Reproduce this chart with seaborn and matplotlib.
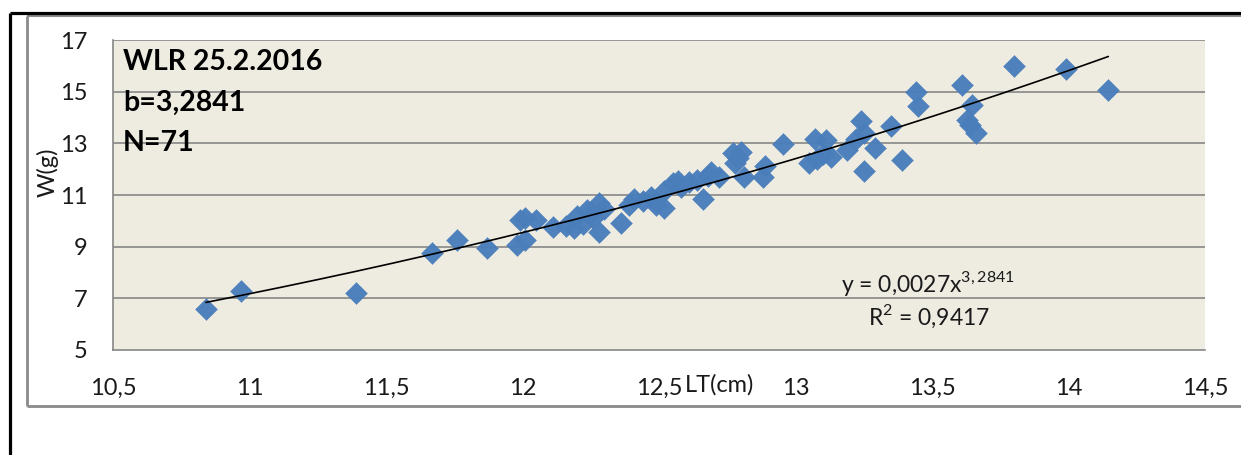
import numpy as np
import pandas as pd
import matplotlib
matplotlib.use("Agg")
import matplotlib.pyplot as plt
from matplotlib.lines import Line2D
import seaborn as sns

# ---- data ----
lt_cm = [10.84, 10.97, 11.39, 11.67, 11.76, 11.87, 11.98, 12.01, 11.99, 12.01,
         12.05, 12.11, 12.19, 12.20, 12.235, 12.22, 12.26, 12.28, 12.28, 12.25,
         12.36, 12.39, 12.41, 12.47, 12.49, 12.52, 12.52, 12.55, 12.57, 12.61,
         12.64, 12.66, 12.69, 12.72, 12.77, 12.80, 12.78, 12.81, 12.88, 12.89,
         12.955, 13.05, 13.07, 13.11, 13.10, 13.13, 13.19, 13.24, 13.25, 13.22,
         13.29, 13.25, 13.35, 13.39, 13.44, 13.45, 13.61, 13.645, 13.63, 13.66,
         13.80, 13.99, 14.146, 12.16, 12.30, 12.44, 12.58, 12.68, 12.79, 13.08,
         13.64]
w_g = [6.60, 7.30, 7.20, 8.75, 9.24, 8.94, 9.07, 9.26, 10.04, 10.12,
       10.04, 9.75, 9.72, 10.20, 10.42, 9.88, 10.10, 10.70, 9.55, 10.30,
       9.93, 10.60, 10.85, 10.94, 10.60, 10.49, 11.15, 11.45, 11.55, 11.52,
       11.58, 10.84, 11.88, 11.71, 12.62, 12.68, 12.23, 11.68, 11.71, 12.13,
       12.97, 12.23, 13.18, 13.13, 12.60, 12.49, 12.74, 13.88, 13.39, 13.15,
       12.81, 11.91, 13.68, 12.36, 14.98, 14.45, 15.24, 14.49, 13.91, 13.39,
       15.98, 15.88, 15.07, 9.80, 10.45, 10.75, 11.30, 11.75, 12.45, 12.40,
       13.70]

x_ticks = [10.5, 11, 11.5, 12, 12.5, 13, 13.5, 14, 14.5]
x_tick_labels = ["10,5", "11", "11,5", "12", "12,5", "13", "13,5", "14", "14,5"]
y_ticks = [5, 7, 9, 11, 13, 15, 17]
y_tick_labels = ["5", "7", "9", "11", "13", "15", "17"]

info_lines = ["WLR 25.2.2016", "b=3,2841", "N=71"]
eq_text = r"y = 0,0027x$^{\mathregular{3,2841}}$"
r2_text = "R$^{\\mathregular{2}}$ = 0,9417"
x_label = "LT(cm)"
y_label = "W(g)"

df = pd.DataFrame({"LT": lt_cm, "W": w_g})

# power trendline fitted like Excel (least squares in log-log space)
b_fit, ln_a = np.polyfit(np.log(df["LT"]), np.log(df["W"]), 1)
xc = np.linspace(df["LT"].min(), df["LT"].max(), 200)
trend = pd.DataFrame({"LT": xc, "W": np.exp(ln_a) * xc ** b_fit})

# ---- style ----
sns.set_theme(style="white")
plt.rcParams["font.family"] = ["Lato", "DejaVu Sans"]
plt.rcParams["mathtext.fontset"] = "custom"
plt.rcParams["mathtext.rm"] = "Lato"

W_PX, H_PX, DPI = 1241, 455, 100
fig = plt.figure(figsize=(W_PX / DPI, H_PX / DPI), dpi=DPI)
fig.patch.set_facecolor("white")

ax = fig.add_axes([113 / W_PX, 1 - 350 / H_PX, (1205 - 113) / W_PX, (350 - 40) / H_PX])
ax.set_facecolor("#EEECE1")

grid_c = "#868686"
txt_c = "#1a1a1a"
for yv in y_ticks[1:]:
    ax.axhline(yv, color=grid_c, lw=1.2, zorder=0)

sns.lineplot(data=trend, x="LT", y="W", ax=ax, color="black", lw=1.2,
             zorder=3, legend=False)
sns.scatterplot(data=df, x="LT", y="W", ax=ax, marker="D", s=125,
                color="#4A7EBB", edgecolor="#4A7EBB", linewidth=0.3,
                alpha=0.97, zorder=2, legend=False)

ax.set_xlim(10.5, 14.5)
ax.set_ylim(5, 17)
ax.set_xticks(x_ticks)
ax.set_xticklabels(x_tick_labels)
ax.set_yticks(y_ticks)
ax.set_yticklabels(y_tick_labels)
ax.tick_params(axis="x", direction="out", length=6, width=1.2, color=grid_c,
               pad=14, labelsize=17, labelcolor=txt_c)
ax.tick_params(axis="y", direction="out", length=6.5, width=1.2, color=grid_c,
               pad=12, labelsize=17, labelcolor=txt_c)
for s in ["top", "right"]:
    ax.spines[s].set_visible(False)
for s in ["left", "bottom"]:
    ax.spines[s].set_color(grid_c)
    ax.spines[s].set_linewidth(1.2)

ax.set_xlabel(x_label, fontsize=17, color=txt_c)
ax.xaxis.set_label_coords((685 - 113) / 1092, (350 - 385) / 310)
ax.xaxis.label.set_ha("left")
ax.xaxis.label.set_va("center")
ax.set_ylabel(y_label, fontsize=17, color=txt_c)
ax.yaxis.set_label_coords((48 - 113) / 1092, (350 - 172) / 310)
ax.yaxis.label.set_va("center")

# info text block (top-left)
for i, t in enumerate(info_lines):
    ax.text((123 - 113) / 1092, (350 - (62 + 40.5 * i)) / 310, t,
            transform=ax.transAxes, ha="left", va="center",
            fontsize=20.5, fontweight="bold", color="black")

# trendline equation
ax.text((928 - 113) / 1092, (350 - 283) / 310, eq_text, transform=ax.transAxes,
        ha="center", va="center", fontsize=16.5, color=txt_c)
ax.text((929 - 113) / 1092, (350 - 316) / 310, r2_text, transform=ax.transAxes,
        ha="center", va="center", fontsize=16.5, color=txt_c)

# chart-area borders (decoration)
def fline(x0, y0, x1, y1, color, lw):
    fig.add_artist(Line2D([x0 / W_PX, x1 / W_PX], [1 - y0 / H_PX, 1 - y1 / H_PX],
                          transform=fig.transFigure, color=color, lw=lw,
                          solid_capstyle="butt"))

fline(27.5, 15.5, 27.5, 405.5, "#8a8a8a", 2.0)
fline(27.5, 15.5, W_PX, 15.5, "#8a8a8a", 1.5)
fline(27.5, 405.5, W_PX, 405.5, "#8a8a8a", 2.0)
fline(10, 12.5, W_PX, 12.5, "black", 2.3)
fline(10, 12.5, 10, H_PX, "black", 2.3)

fig.savefig("out.png", dpi=DPI)
